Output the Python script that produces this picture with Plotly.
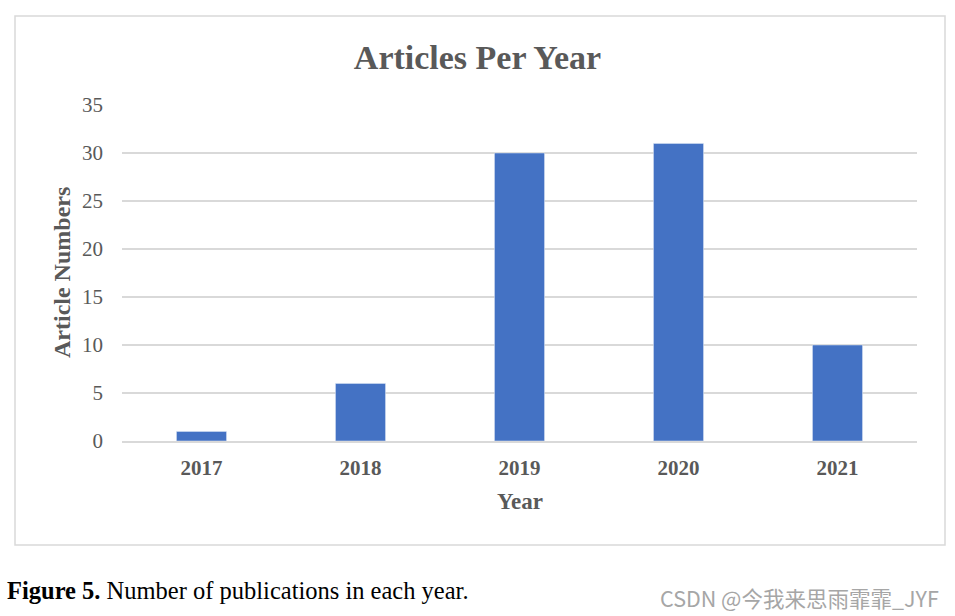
import plotly.graph_objects as go

years = ["2017", "2018", "2019", "2020", "2021"]
counts = [1, 6, 30, 31, 10]
y_ticks = [0, 5, 10, 15, 20, 25, 30, 35]

W, H = 955, 616
L, R, T, B = 122, 917, 105, 441
pw, ph = R - L, B - T

def px(x):
    return (x - L) / pw

def py(y):
    return (B - y) / ph

SERIF = "Liberation Serif, Times New Roman, serif"
GRAY = "#595959"

fig = go.Figure()
fig.add_trace(go.Bar(x=years, y=counts, marker_color="#4472C4", width=0.315))

fig.update_layout(
    width=W, height=H,
    margin=dict(l=L, r=W - R, t=T, b=H - B),
    paper_bgcolor="white", plot_bgcolor="white",
    showlegend=False,
    title=dict(text="<b>Articles Per Year</b>", x=0.5, xanchor="center",
               y=1 - 57 / H, yanchor="middle", yref="container",
               font=dict(family=SERIF, size=34, color=GRAY)),
    xaxis=dict(type="category", showgrid=False, showline=True, linecolor="#d9d9d9",
               linewidth=2, ticks="", ticklabelstandoff=7,
               tickprefix="<b>", ticksuffix="</b>",
               tickfont=dict(family=SERIF, size=21, color=GRAY)),
    yaxis=dict(range=[0, 35], tickvals=y_ticks, showgrid=True, gridcolor="#d9d9d9",
               gridwidth=1.5, zeroline=False, showline=False, ticks="",
               ticklabelstandoff=18,
               tickfont=dict(family=SERIF, size=21, color=GRAY)),
    font=dict(family=SERIF),
)

fig.add_shape(type="rect", xref="paper", yref="paper",
              x0=px(15), x1=px(945), y0=py(545), y1=py(16),
              line=dict(color="#d9d9d9", width=1.5), fillcolor="rgba(0,0,0,0)",
              layer="below")

fig.add_annotation(text="<b>Year</b>", xref="paper", yref="paper",
                   x=0.5, y=py(501), xanchor="center", yanchor="middle",
                   showarrow=False, font=dict(family=SERIF, size=23, color=GRAY))
fig.add_annotation(text="<b>Article Numbers</b>", xref="paper", yref="paper",
                   x=px(62), y=py(273), xanchor="center", yanchor="middle",
                   textangle=-90, showarrow=False,
                   font=dict(family=SERIF, size=24, color=GRAY))
fig.add_annotation(text="<b>Figure 5.</b> Number of publications in each year.",
                   xref="paper", yref="paper", x=px(5), y=py(590),
                   xanchor="left", yanchor="middle", showarrow=False,
                   font=dict(family=SERIF, size=24.5, color="black"))
fig.add_annotation(text="CSDN @今我来思雨霏霏_JYF", xref="paper", yref="paper",
                   x=px(941), y=py(597), xanchor="right", yanchor="middle",
                   showarrow=False,
                   font=dict(family="Noto Sans CJK SC, sans-serif", size=21.5, color="#a6a6a6"))

fig.write_html("out.html", post_script="document.body.style.margin='0';",
               config={"displayModeBar": False})
